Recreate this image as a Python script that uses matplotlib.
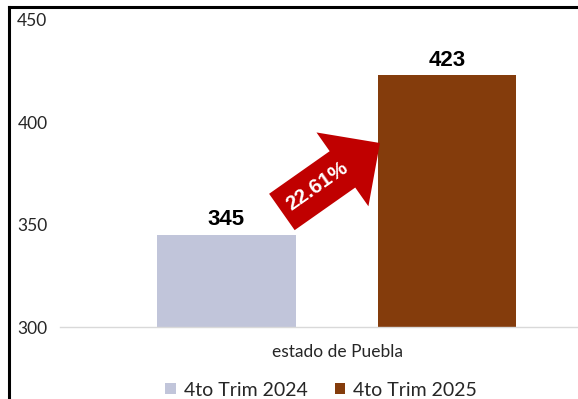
import matplotlib
matplotlib.use('Agg')
import matplotlib.pyplot as plt
from matplotlib.patches import Patch
from matplotlib.lines import Line2D

# datos
categoria = 'estado de Puebla'
series = ['4to Trim 2024', '4to Trim 2025']
valores = [345, 423]
colores = ['#C1C5DA', '#843C0C']
variacion = (valores[1] - valores[0]) / valores[0] * 100

fig = plt.figure(figsize=(5.78, 3.99), dpi=100)
ax = fig.add_axes([60 / 578, 1 - 327 / 399, 518 / 578, 307 / 399])

# barras
offsets = [-0.399, 0.397]
for off, v, c in zip(offsets, valores, colores):
    ax.bar(off, v, width=0.5, color=c, zorder=2)
    ax.annotate(str(v), (off, v), xytext=(0, 7), textcoords='offset points',
                ha='center', va='baseline', fontsize=16, fontweight='bold',
                family='Liberation Sans', color='black')

ax.set_xlim(-1.0, 0.87)
ax.set_ylim(300, 450)
ax.set_yticks([300, 350, 400, 450])
ax.set_xticks([0])
ax.set_xticklabels([categoria])

for s in ['top', 'right', 'left']:
    ax.spines[s].set_visible(False)
ax.spines['bottom'].set_color('#D9D9D9')
ax.spines['bottom'].set_linewidth(1)
ax.tick_params(axis='y', length=0, pad=9, labelsize=12.5, labelcolor='#262626')
ax.tick_params(axis='x', length=0, pad=12, labelsize=12.5, labelcolor='#262626')
for lbl in ax.get_yticklabels() + ax.get_xticklabels():
    lbl.set_family('Lato')

# flecha de variación
ax.annotate('', xy=(0.155, 389.9), xytext=(-0.199, 356.2),
            arrowprops=dict(arrowstyle='simple,head_width=65,head_length=33,tail_width=32',
                            mutation_scale=1, shrinkA=0, shrinkB=0,
                            color='#C00000', lw=0), zorder=3)
ax.text(-0.072, 368.9, f'{variacion:.2f}%', rotation=35, rotation_mode='anchor',
        ha='center', va='center', color='white', fontsize=15, fontweight='bold',
        family='Liberation Sans', zorder=4)

# leyenda
handles = [Patch(facecolor=c, edgecolor='none') for c in colores]
fig.legend(handles, series, loc='center', bbox_to_anchor=(321 / 578, 1 - 390 / 399),
           ncol=2, frameon=False, prop={'family': 'Lato', 'size': 14},
           handlelength=0.55, handleheight=0.55, handletextpad=0.4,
           columnspacing=1.4, labelcolor='#262626')

# marco
fig.add_artist(Line2D([8.5 / 578, 1], [1 - 6.5 / 399, 1 - 6.5 / 399],
                      color='black', lw=2.2, transform=fig.transFigure))
fig.add_artist(Line2D([8.5 / 578, 8.5 / 578], [0, 1 - 6.5 / 399],
                      color='black', lw=2.2, transform=fig.transFigure))

fig.savefig('out.png', dpi=100)
